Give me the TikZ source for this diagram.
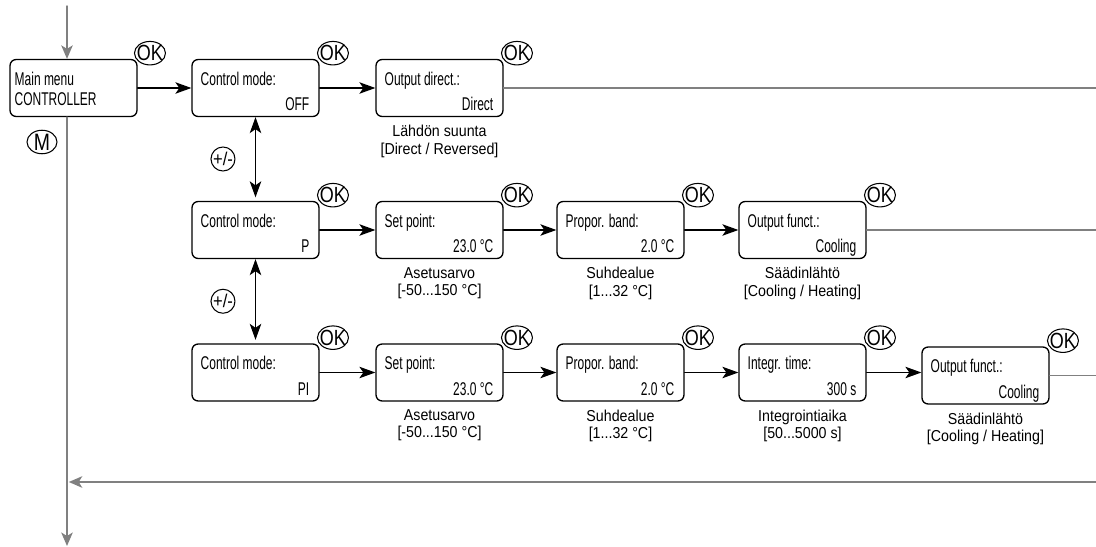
\documentclass[tikz,border=0pt]{standalone}
\usepackage{fontspec}
\setmainfont{Liberation Sans}
\newfontfamily\lcdfont{Liberation Sans}[FakeStretch=0.65]
\newfontfamily\hintfont{Liberation Sans}[FakeStretch=0.9]
\newfontfamily\keyfont{Liberation Sans}[FakeStretch=0.82]
\usetikzlibrary{arrows.meta,positioning,shapes.geometric}
\definecolor{flowgrey}{RGB}{128,128,128}

\begin{document}
\begin{tikzpicture}[x=0.02cm,y=-0.02cm,line cap=round,line join=round,
  lcd/.style={draw,rounded corners=3.5pt,line width=0.75pt,minimum width=2.54cm,minimum height=1.14cm,inner sep=0pt},
  uptxt/.style={font=\lcdfont\fontsize{10.5}{11.9}\selectfont,inner sep=0pt,align=left},
  valtxt/.style={font=\lcdfont\fontsize{10.5}{11.9}\selectfont,inner sep=0pt,text depth=0pt},
  hint/.style={font=\hintfont\fontsize{9}{9.7}\selectfont,inner sep=0pt,align=center},
  okkey/.style={draw,ellipse,line width=0.6pt,inner xsep=-2pt,inner ysep=0pt,minimum width=0.62cm,minimum height=0.47cm,font=\keyfont\fontsize{12.5}{12.5}\selectfont},
  pmkey/.style={draw,circle,line width=0.6pt,inner sep=0pt,minimum size=0.48cm,font=\hintfont\fontsize{10.5}{10.5}\selectfont},
  menukey/.style={draw,ellipse,line width=0.6pt,inner xsep=-2pt,inner ysep=0pt,minimum width=0.6cm,minimum height=0.47cm,font=\keyfont\fontsize{13.5}{13.5}\selectfont},
  stepto/.style={draw=black,line width=0.75pt,-{Stealth[length=0.32cm,width=0.23cm,inset=0.08cm]}},
  modeswap/.style={draw=black,line width=0.75pt,{Stealth[length=0.32cm,width=0.23cm,inset=0.08cm]}-{Stealth[length=0.32cm,width=0.23cm,inset=0.08cm]}},
  greyline/.style={draw=flowgrey,line width=0.8pt},
  greyarrow/.style={greyline,-{Stealth[length=0.27cm,width=0.23cm,inset=0.07cm]}}]
\useasboundingbox (0,0) rectangle (1096,547);
% row 1: main menu, control mode off
\node[lcd] (main) at (73.5,88) {};
\node[uptxt,below right=0.25cm and 0.1cm of main.north west] (maint) {Main menu\\CONTROLLER};
\node[okkey,above right=-0.06cm and 0.02cm of main.north east] (okmain) {OK};
\node[menukey] (mkey) at (42,142) {M};
\node[lcd] (cm0) at (255.5,88) {};
\node[uptxt,below right=0.25cm and 0.18cm of cm0.north west] (cm0t) {Control mode:};
\node[valtxt,above left=0.12cm and 0.2cm of cm0.south east] (cm0v) {OFF};
\node[okkey,above right=-0.06cm and 0.04cm of cm0.north east] (okcm0) {OK};
\node[lcd] (dir0) at (439.5,88) {};
\node[uptxt,below right=0.25cm and 0.18cm of dir0.north west] (dir0t) {Output direct.:};
\node[valtxt,above left=0.12cm and 0.2cm of dir0.south east] (dir0v) {Direct};
\node[okkey,above right=-0.06cm and 0.04cm of dir0.north east] (okdir0) {OK};
\node[hint,below=0.16cm of dir0] (dir0n) {Lähdön suunta\\{[Direct / Reversed]}};
% row 2: control mode P
\node[lcd] (cm1) at (255.5,230) {};
\node[uptxt,below right=0.25cm and 0.18cm of cm1.north west] (cm1t) {Control mode:};
\node[valtxt,above left=0.12cm and 0.2cm of cm1.south east] (cm1v) {P};
\node[okkey,above right=-0.06cm and 0.04cm of cm1.north east] (okcm1) {OK};
\node[lcd] (sp1) at (439.5,230) {};
\node[uptxt,below right=0.25cm and 0.18cm of sp1.north west] (sp1t) {Set point:};
\node[valtxt,above left=0.12cm and 0.2cm of sp1.south east] (sp1v) {23.0 °C};
\node[okkey,above right=-0.06cm and 0.04cm of sp1.north east] (oksp1) {OK};
\node[hint,below=0.16cm of sp1] (sp1n) {Asetusarvo\\{[-50...150 °C]}};
\node[lcd] (pb1) at (620.5,230) {};
\node[uptxt,below right=0.25cm and 0.18cm of pb1.north west] (pb1t) {Propor. band:};
\node[valtxt,above left=0.12cm and 0.2cm of pb1.south east] (pb1v) {2.0 °C};
\node[okkey,above right=-0.06cm and 0.04cm of pb1.north east] (okpb1) {OK};
\node[hint,below=0.16cm of pb1] (pb1n) {Suhdealue\\{[1...32 °C]}};
\node[lcd] (of1) at (802.5,230) {};
\node[uptxt,below right=0.25cm and 0.18cm of of1.north west] (of1t) {Output funct.:};
\node[valtxt,above left=0.12cm and 0.2cm of of1.south east] (of1v) {Cooling};
\node[okkey,above right=-0.06cm and 0.04cm of of1.north east] (okof1) {OK};
\node[hint,below=0.16cm of of1] (of1n) {Säädinlähtö\\{[Cooling / Heating]}};
% row 3: control mode PI
\node[lcd] (cm2) at (255.5,372.5) {};
\node[uptxt,below right=0.25cm and 0.18cm of cm2.north west] (cm2t) {Control mode:};
\node[valtxt,above left=0.12cm and 0.2cm of cm2.south east] (cm2v) {PI};
\node[okkey,above right=-0.06cm and 0.04cm of cm2.north east] (okcm2) {OK};
\node[lcd] (sp2) at (439.5,372.5) {};
\node[uptxt,below right=0.25cm and 0.18cm of sp2.north west] (sp2t) {Set point:};
\node[valtxt,above left=0.12cm and 0.2cm of sp2.south east] (sp2v) {23.0 °C};
\node[okkey,above right=-0.06cm and 0.04cm of sp2.north east] (oksp2) {OK};
\node[hint,below=0.16cm of sp2] (sp2n) {Asetusarvo\\{[-50...150 °C]}};
\node[lcd] (pb2) at (620.5,372.5) {};
\node[uptxt,below right=0.25cm and 0.18cm of pb2.north west] (pb2t) {Propor. band:};
\node[valtxt,above left=0.12cm and 0.2cm of pb2.south east] (pb2v) {2.0 °C};
\node[okkey,above right=-0.06cm and 0.04cm of pb2.north east] (okpb2) {OK};
\node[hint,below=0.16cm of pb2] (pb2n) {Suhdealue\\{[1...32 °C]}};
\node[lcd] (it2) at (802.5,372.5) {};
\node[uptxt,below right=0.25cm and 0.18cm of it2.north west] (it2t) {Integr. time:};
\node[valtxt,above left=0.12cm and 0.2cm of it2.south east] (it2v) {300 s};
\node[okkey,above right=-0.06cm and 0.04cm of it2.north east] (okit2) {OK};
\node[hint,below=0.16cm of it2] (it2n) {Integrointiaika\\{[50...5000 s]}};
\node[lcd] (of2) at (985.5,375.5) {};
\node[uptxt,below right=0.25cm and 0.18cm of of2.north west] (of2t) {Output funct.:};
\node[valtxt,above left=0.12cm and 0.2cm of of2.south east] (of2v) {Cooling};
\node[okkey,above right=-0.06cm and 0.04cm of of2.north east] (okof2) {OK};
\node[hint,below=0.16cm of of2] (of2n) {Säädinlähtö\\{[Cooling / Heating]}};
% connectors
\draw[stepto] (main) -- (cm0);
\draw[stepto] (cm0) -- (dir0);
\draw[stepto] (cm1) -- (sp1);
\draw[stepto] (sp1) -- (pb1);
\draw[stepto] (pb1) -- (of1);
\draw[stepto] (cm2) -- (sp2);
\draw[stepto] (sp2) -- (pb2);
\draw[stepto] (pb2) -- (it2);
\draw[stepto] (it2.east) -- (it2.east -| of2.west);
\draw[modeswap,shorten >=2pt] (cm0.south) -- node[pmkey,left=0.4cm] (pm1) {+/-} (cm1.north);
\draw[modeswap,shorten >=2pt] (cm1.south) -- node[pmkey,left=0.4cm] (pm2) {+/-} (cm2.north);
% grey menu flow
\coordinate (mtop) at (67,6);
\coordinate (mend) at (67,546);
\coordinate (ret) at (1096,482);
\draw[greyarrow] (mtop) -- (mtop |- main.north);
\draw[greyarrow] (mtop |- main.south) -- (mend);
\draw[greyarrow,shorten >=1pt] (ret) -- (ret -| mend);
\draw[greyline] (dir0.east) -- (dir0.east -| ret);
\draw[greyline] (of1.east) -- (of1.east -| ret);
\draw[greyline] (of2.east) -- (of2.east -| ret);
\end{tikzpicture}
\end{document}
